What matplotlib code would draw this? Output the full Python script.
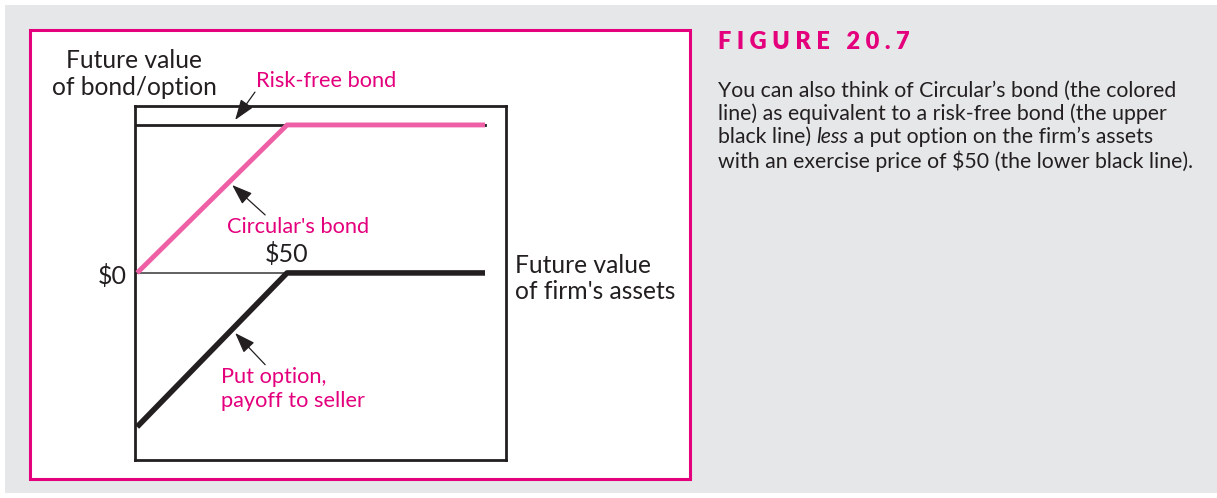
import matplotlib
matplotlib.use("Agg")
import matplotlib.pyplot as plt
from matplotlib.patches import Rectangle

# future value of the firm's assets ($)
assets = [0, 50, 116]
# payoffs ($)
riskfree_bond = [50, 50, 50]
circular_bond = [0, 50, 50]
put_seller = [-52, 0, 0]
strike = 50

caption = ["You can also think of Circular\u2019s bond (the colored",
           "line) as equivalent to a risk-free bond (the upper",
           "black line) ", "less", " a put option on the firm\u2019s assets",
           "with an exercise price of $50 (the lower black line)."]

PINK = "#E4007C"
LINEPINK = "#EE5FA6"
INK = "#231F20"
W, H = 1217, 498

plt.rcParams['font.family'] = ['Lato', 'DejaVu Sans']
fig = plt.figure(figsize=(W / 100, H / 100), dpi=100)
fig.patch.set_facecolor("white")

# grey page background + pink frame
fig.patches.append(Rectangle((5 / W, 1 - 493 / H), 1 - 5 / W, 488 / H,
                             transform=fig.transFigure, facecolor="#E6E7E8",
                             edgecolor="none", zorder=-3))
fig.patches.append(Rectangle((30 / W, 1 - 479 / H), 660 / W, 449 / H,
                             transform=fig.transFigure, facecolor="white",
                             edgecolor=PINK, linewidth=2.2, zorder=-2))

ax = fig.add_axes([135 / W, 1 - 460 / H, 371 / W, 354 / H])
ax.set_zorder(2)
ax.patch.set_alpha(0)
ax.set_xlim(-0.7, 123)
ax.set_ylim(-63.2, 56.4)
ax.set_xticks([])
ax.set_yticks([])
for s in ax.spines.values():
    s.set_linewidth(2)
    s.set_color(INK)

ax.plot(assets[:2], [0, 0], color="#555555", lw=1.3, zorder=2)
ax.plot(assets, riskfree_bond, color=INK, lw=2, zorder=2)
ax.plot(assets, circular_bond, color=LINEPINK, lw=3.5, zorder=3,
        solid_capstyle="butt")
ax.plot(assets, put_seller, color=INK, lw=4, zorder=3, solid_capstyle="butt")

fs = 15.7
ax.text(-3.5, -1, "$0", ha="right", va="center", fontsize=18, color=INK)
ax.text(strike, 2.5, "$50", ha="center", va="bottom", fontsize=18, color=INK)

arr = dict(arrowstyle="-|>,head_length=0.7,head_width=0.25", color=INK,
           lw=0.9, mutation_scale=18, shrinkA=0, shrinkB=0)
ax.text(39.5, 65, "Risk-free bond", fontsize=fs, color=PINK, ha="left",
        va="center")
ax.annotate("", xy=(32.7, 51.7), xytext=(39.3, 61.1), arrowprops=arr,
            annotation_clip=False)
ax.text(53.7, 15.5, "Circular's bond", fontsize=fs, color=PINK, ha="center",
        va="center")
ax.annotate("", xy=(31.7, 29.7), xytext=(42.7, 19.6), arrowprops=arr)
ax.text(28, -39.2, "Put option,\npayoff to seller", fontsize=fs, color=PINK,
        ha="left", va="center", linespacing=1.24)
ax.annotate("", xy=(32.7, -20.3), xytext=(42.7, -31), arrowprops=arr)

fig.text(134 / W, 1 - 74 / H, "Future value\nof bond/option", ha="center",
         va="center", fontsize=17.7, color=INK, linespacing=1.16)
fig.text(515 / W, 1 - 278.5 / H, "Future value\nof firm's assets", ha="left",
         va="center", fontsize=17.7, color=INK, linespacing=1.16)

# right-hand caption
fig.text(718 / W, 1 - 42 / H, "F I G U R E   2 0 . 7", ha="left",
         va="center", fontsize=17, fontweight="heavy", color=PINK)
cfs = 15.3
x0 = 718 / W
ys = [91, 114, 137, 161]
fig.text(x0, 1 - ys[0] / H, caption[0], va="center", fontsize=cfs, color=INK)
fig.text(x0, 1 - ys[1] / H, caption[1], va="center", fontsize=cfs, color=INK)
t = fig.text(x0, 1 - ys[2] / H, caption[2], va="center", fontsize=cfs, color=INK)
r = fig.canvas.get_renderer()
x1 = t.get_window_extent(r).x1 / W
t = fig.text(x1, 1 - ys[2] / H, caption[3], va="center", fontsize=cfs,
             color=INK, style="italic")
x2 = t.get_window_extent(r).x1 / W
fig.text(x2, 1 - ys[2] / H, caption[4], va="center", fontsize=cfs, color=INK)
fig.text(x0, 1 - ys[3] / H, caption[5], va="center", fontsize=cfs, color=INK)

fig.savefig("out.png", dpi=100)
